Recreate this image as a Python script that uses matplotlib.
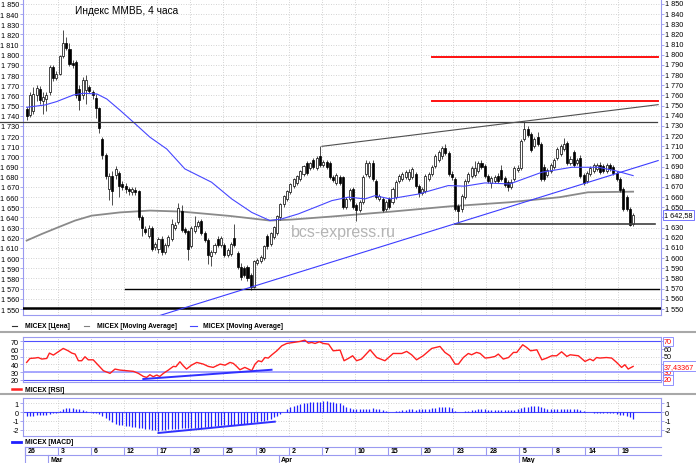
import matplotlib
matplotlib.use("Agg")
import matplotlib.pyplot as plt
from matplotlib.lines import Line2D
from matplotlib.ticker import FuncFormatter
import numpy as np

plt.rcParams['font.family'] = ['Liberation Sans', 'DejaVu Sans']
plt.rcParams['axes.unicode_minus'] = False

# 4-hour candles, MICEX index
opens = [1747,1741,1745,1760,1766,1755,1757,1763,1788,1777,
         1781,1799,1812,1806,1792,1793,1766,1760,1765,1768,
         1763,1758,1748,1717,1701,1668,1681,1682,1684,1673,
         1671,1668,1665,1667,1666,1640,1629,1622,1630,1611,
         1609,1619,1606,1613,1619,1630,1636,1646,1629,1627,
         1612,1627,1632,1637,1625,1618,1602,1606,1619,1613,
         1613,1603,1604,1620,1605,1591,1590,1591,1583,1572,
         1595,1597,1600,1622,1614,1621,1625,1640,1653,1658,
         1665,1671,1674,1678,1683,1694,1689,1697,1689,1700,
         1692,1695,1694,1680,1674,1680,1680,1650,1658,1668,
         1652,1647,1655,1683,1681,1694,1676,1658,1658,1648,
         1658,1655,1660,1676,1678,1680,1678,1680,1683,1671,
         1664,1666,1678,1683,1691,1697,1700,1708,1703,1683,
         1678,1651,1648,1660,1676,1681,1682,1686,1694,1691,
         1681,1674,1676,1681,1687,1679,1675,1670,1678,1687,
         1689,1717,1727,1722,1710,1719,1712,1690,1682,1686,
         1690,1699,1702,1707,1713,1694,1704,1694,1699,1682,
         1676,1683,1686,1688,1692,1691,1686,1692,1690,1684,
         1678,1668,1660,1648,1634]
highs = [1749,1763,1768,1770,1769,1763,1763,1790,1790,1784,
         1800,1824,1818,1812,1795,1795,1770,1778,1780,1770,
         1765,1761,1749,1719,1703,1684,1686,1691,1686,1676,
         1674,1670,1670,1670,1667,1642,1632,1633,1632,1616,
         1621,1622,1615,1623,1639,1636,1654,1652,1631,1628,
         1632,1641,1638,1639,1627,1620,1608,1615,1622,1622,
         1615,1610,1616,1634,1607,1595,1592,1593,1585,1598,
         1600,1603,1613,1624,1626,1632,1642,1654,1662,1667,
         1674,1679,1682,1687,1692,1696,1695,1699,1700,1710,
         1697,1697,1696,1682,1684,1682,1681,1660,1669,1670,
         1654,1657,1682,1697,1696,1697,1678,1663,1660,1657,
         1660,1670,1677,1683,1685,1687,1688,1690,1685,1673,
         1670,1683,1685,1692,1702,1706,1710,1712,1705,1686,
         1680,1653,1663,1678,1685,1691,1696,1696,1697,1693,
         1683,1681,1682,1684,1692,1681,1677,1678,1691,1692,
         1717,1735,1730,1724,1719,1724,1714,1693,1689,1694,
         1699,1709,1712,1718,1715,1700,1706,1699,1701,1684,
         1686,1691,1694,1694,1695,1693,1694,1694,1692,1686,
         1680,1670,1662,1650,1644]
lows = [1736,1739,1742,1755,1752,1742,1745,1760,1774,1775,
        1780,1797,1805,1789,1787,1758,1746,1757,1752,1762,
        1757,1738,1723,1698,1678,1657,1652,1678,1660,1667,
        1664,1662,1662,1662,1638,1622,1624,1620,1607,1608,
        1605,1603,1604,1611,1617,1628,1634,1626,1624,1598,
        1610,1625,1630,1623,1616,1594,1592,1604,1611,1611,
        1601,1601,1602,1611,1589,1579,1581,1578,1569,1571,
        1593,1595,1598,1609,1612,1619,1623,1638,1650,1656,
        1663,1669,1672,1676,1681,1682,1687,1688,1687,1690,
        1690,1688,1678,1675,1672,1672,1648,1648,1656,1648,
        1637,1645,1653,1681,1679,1676,1658,1656,1645,1646,
        1648,1653,1658,1674,1676,1678,1676,1678,1669,1660,
        1662,1664,1676,1681,1689,1695,1698,1701,1681,1677,
        1646,1636,1645,1658,1674,1679,1680,1684,1688,1679,
        1674,1669,1674,1674,1676,1670,1666,1668,1676,1685,
        1687,1715,1719,1704,1708,1710,1676,1676,1680,1684,
        1688,1697,1700,1705,1692,1692,1690,1692,1679,1672,
        1674,1681,1684,1686,1683,1684,1684,1686,1682,1676,
        1665,1646,1646,1632,1632]
closes = [1740,1760,1761,1767,1756,1759,1760,1788,1777,1781,
          1799,1812,1807,1791,1790,1760,1756,1775,1775,1764,
          1760,1748,1728,1701,1681,1681,1666,1688,1671,1670,
          1668,1666,1668,1665,1640,1630,1626,1630,1609,1614,
          1619,1606,1613,1621,1634,1633,1649,1628,1626,1609,
          1630,1632,1636,1625,1618,1603,1606,1613,1613,1620,
          1603,1608,1614,1613,1591,1581,1583,1580,1572,1597,
          1598,1601,1612,1612,1625,1631,1641,1653,1661,1666,
          1673,1678,1681,1686,1691,1684,1694,1690,1699,1692,
          1695,1690,1680,1677,1682,1674,1650,1658,1667,1650,
          1647,1655,1680,1694,1694,1678,1660,1661,1647,1655,
          1650,1668,1675,1681,1683,1685,1685,1688,1671,1664,
          1668,1681,1683,1690,1700,1704,1708,1703,1683,1680,
          1648,1646,1661,1676,1683,1689,1689,1694,1690,1681,
          1676,1679,1680,1676,1678,1672,1670,1675,1689,1689,
          1715,1727,1721,1706,1717,1712,1678,1678,1687,1692,
          1697,1707,1710,1712,1694,1698,1692,1697,1681,1674,
          1684,1689,1692,1692,1685,1686,1692,1688,1684,1678,
          1667,1648,1648,1633,1642.58]
last_price = 1642.58

# moving averages (bar index, value)
ma_blue_bar = [0, 5.6, 9.1, 14.2, 17.2, 21.3, 24.3, 28.5, 32.4, 37.4, 42.5, 48, 56.1, 62.2,
               68.3, 73.8, 77.4, 82.4, 87.5, 92.6, 97.6, 102.7, 105.7, 110.2, 118.8, 127.9,
               132.9, 139, 146.6, 156.3, 165.4, 173.4, 178.5, 184]
ma_blue = [1748.4, 1750.7, 1754, 1760.5, 1762.2, 1761.5, 1756.6, 1745, 1733.7, 1719, 1707.4,
           1687.8, 1674.7, 1658.3, 1645, 1637, 1638.6, 1643.5, 1650, 1656.6, 1660, 1658.3,
           1661.5, 1658.3, 1663, 1671.4, 1670.8, 1674, 1673, 1684.5, 1689.4, 1689.4, 1686.1, 1681.2]
ma_gray_bar = [0, 4.6, 9.6, 14.7, 19.7, 28.3, 37.4, 47, 61.7, 73.8, 80.5, 92, 109.7, 128.5,
               146.6, 161.8, 170.3, 184]
ma_gray = [1617.3, 1623.8, 1630.4, 1637, 1641.8, 1645, 1646.8, 1645.8, 1641.5, 1637, 1638,
           1640.8, 1645.5, 1651, 1655, 1660, 1664.8, 1665.4]

# RSI (bar index, value)
rsi_bar = [0, 1, 2.5, 3.5, 4.6, 6.1, 6.9, 8.1, 9.6, 11.1, 12.6, 13.7, 14.7, 15.7, 16.7, 17.7,
           18.7, 20.2, 21.7, 23.3, 25.3, 26.8, 28.3, 30.3, 32.4, 33.9, 35.4, 36.4, 37.4, 38.4,
           39.4, 40.4, 41.5, 43, 44.5, 45.3, 46.5, 47.5, 48.5, 50, 51.6, 53.6, 55.1, 56.6,
           58.7, 60.2, 61.7, 62.7, 63.7, 64.7, 66.2, 67.3, 68.3, 69.3, 70.3, 71.3, 72.3, 73.3,
           74.3, 75.9, 77.4, 78.9, 80.9, 82.9, 84.4, 85.5, 86.5, 87.5, 88.8, 90, 91.6, 93,
           95.1, 96.3, 97.6, 98.9, 100.1, 101.6, 104.2, 106.2, 108.7, 111.2, 113.8, 115.3,
           116.8, 118.3, 120.3, 122.9, 125.4, 126.9, 128.4, 130, 131, 132.5, 134, 135, 136.5,
           137.6, 139.1, 140.6, 142.1, 143.1, 144.6, 146.2, 147.7, 148.7, 150.5, 151.7, 152.9,
           154.8, 156.3, 157.8, 159.3, 160.8, 162.3, 163.9, 164.9, 167.4, 169.4, 170.9, 171.9,
           172.9, 173.9, 175.9, 177.5, 179, 180.5, 181.5, 182.5, 184]
rsi_val = [42.6, 47.8, 48.3, 49, 47, 47.8, 54.8, 52.2, 56.5, 60.9, 57.8, 54.8, 53.5, 44.8, 44.8,
           50, 46, 46, 39, 31.7, 28.3, 33.9, 32.6, 31.7, 30.9, 28.3, 24.3, 23, 26.5, 23.9, 26,
           24.3, 28.3, 32.6, 37.4, 37, 43.5, 38.3, 33.9, 39, 42.6, 40.4, 37.4, 36.1, 40.4, 39,
           42.6, 41.3, 37.4, 33, 36.1, 33.9, 31.7, 40.4, 44.8, 43.5, 49, 48.3, 52.2, 57.8, 64.3,
           67.4, 68.7, 70, 71.7, 67.8, 68.7, 67.4, 69.6, 67.4, 66.5, 57.8, 58.7, 44.8, 47.8,
           51.3, 44.8, 47, 59.1, 49, 44.8, 54.3, 54.3, 57, 52.6, 46, 51.3, 60.9, 63.5, 55.7,
           51.3, 40.4, 40.4, 49, 54.3, 52.6, 55.7, 54.3, 48.3, 49, 50.4, 53.5, 47, 49, 55.7,
           55.7, 65.7, 62.2, 57.8, 59.1, 46, 48.3, 51.3, 51.3, 56.5, 50.4, 52.6, 51.3, 43.9,
           47, 44.8, 49, 48.3, 49, 48.3, 42.6, 36.1, 39.6, 33.9, 37.4]
rsi_last = 37.43367

# MACD histogram, one value per candle
macd = [-0.45,-0.42,-0.40,-0.38,-0.35,-0.32,-0.28,-0.22,-0.15,-0.08,
        0.10,0.30,0.42,0.45,0.44,0.40,0.30,0.18,0.08,0.02,
        -0.05,-0.10,-0.20,-0.45,-0.70,-0.95,-1.15,-1.30,-1.42,-1.50,
        -1.58,-1.62,-1.68,-1.72,-1.78,-1.85,-1.92,-1.98,-2.03,-2.08,
        -2.15,-2.08,-2.02,-1.98,-1.93,-1.90,-1.87,-1.85,-1.84,-1.83,
        -1.82,-1.80,-1.78,-1.76,-1.74,-1.72,-1.68,-1.62,-1.57,-1.52,
        -1.50,-1.48,-1.45,-1.42,-1.38,-1.35,-1.32,-1.30,-1.20,-1.15,
        -1.12,-1.05,-0.98,-0.88,-0.75,-0.60,-0.45,-0.20,0.05,0.35,
        0.55,0.70,0.78,0.90,0.98,1.05,1.10,1.12,1.15,1.20,
        1.22,1.24,1.20,1.12,1.08,1.00,0.78,0.60,0.50,0.40,
        0.35,0.30,0.30,0.33,0.38,0.42,0.40,0.32,0.20,0.10,
        0.06,0.06,0.10,0.17,0.22,0.28,0.30,0.30,0.28,0.30,
        0.33,0.36,0.40,0.45,0.50,0.58,0.60,0.58,0.55,0.45,
        0.15,0.06,0.04,0.08,0.15,0.20,0.25,0.30,0.30,0.30,
        0.28,0.26,0.24,0.22,0.20,0.19,0.19,0.20,0.25,0.32,
        0.45,0.55,0.60,0.64,0.67,0.68,0.60,0.47,0.40,0.37,
        0.36,0.37,0.38,0.38,0.37,0.36,0.34,0.30,0.22,0.12,
        0.05,-0.03,-0.05,-0.07,-0.07,-0.07,-0.08,-0.10,-0.15,-0.20,
        -0.30,-0.38,-0.47,-0.55,-0.75]

# date axis: one label every 10 candles
day_labels = ['26','3','6','12','17','20','25','30','2','7','10','15','20','23','28','5','8','14','19']
month_names = ['Mar', 'Apr', 'May']
month_start = [7, 77, 150]

# drawn levels and trend lines (price levels / endpoints in bar, price)
level_top = 1734
level_mid = 1634
level_low = 1570
level_floor = 1550.8
red_levels = [1797.6, 1754.6]
upper_trend = ([89.6, 191.6], [1710, 1751])
support_trend = ([38.1, 191.6], [1541.3, 1696])
rsi_trend = ([35.4, 74.3], [20.9, 33.0])
macd_trend = ([40, 75.3], [-2.375, -1.09])

W, H = 696, 464
fig = plt.figure(figsize=(W / 100, H / 100), dpi=100)
fig.patch.set_facecolor('white')


def box(l, t, r, b):
    return [l / W, 1 - b / H, (r - l) / W, (b - t) / H]


LAV = '#9a9af0'
GRID = '#c4c4c4'
XL = (-1.107, 192.46)
X0 = -8.08  # figure left edge in bar units
seps = [10 * k - 0.5 for k in range(len(day_labels))]
LS = 5.2
RX = 1 + 4 / 638  # right label position in axes units


def style(a, top=True):
    a.set_xlim(*XL)
    for s in ['left', 'right', 'bottom', 'top']:
        a.spines[s].set_color(LAV)
        a.spines[s].set_linewidth(0.8)
    if not top:
        a.spines['top'].set_visible(False)
    a.set_xticks(seps[1:])
    a.tick_params(axis='x', length=0, labelbottom=False)
    a.tick_params(axis='y', left=True, right=True, labelleft=True, labelright=True,
                  length=2, width=0.6, color=LAV, labelsize=LS, pad=1)
    a.grid(True, color=GRID, linestyle=(0, (1, 2)), linewidth=0.6)
    a.set_axisbelow(True)


def price_fmt(v):
    return f"{int(round(v)):,}".replace(',', ' ')


# ---------- price panel ----------
ax = fig.add_axes(box(23, 0, 661, 316))
style(ax, top=False)
ax.set_ylim(1544.1, 1854.9)
ticks = list(range(1550, 1851, 10))
ax.set_yticks(ticks)
ax.yaxis.set_major_formatter(FuncFormatter(lambda v, p: price_fmt(v)))
ax.tick_params(axis='y', labelright=False)
ytr = ax.get_yaxis_transform()
for v in ticks:
    if abs(v - last_price) > 6:
        ax.text(RX, v, price_fmt(v), transform=ytr, fontsize=LS, va='center', ha='left',
                clip_on=False)

x = np.arange(len(closes))
o = np.array(opens, dtype=float)
c = np.array(closes, dtype=float)
ax.plot(ma_gray_bar, ma_gray, color='#8a8a8a', lw=1.3, zorder=2)
ax.vlines(x, lows, highs, color='#303030', lw=0.6, zorder=3)
ax.bar(x, np.maximum(np.abs(c - o), 0.8), bottom=np.minimum(o, c), width=0.62,
       color=np.where(c >= o, 'white', 'black'), edgecolor='black', linewidth=0.5, zorder=4)
ax.plot(ma_blue_bar, ma_blue, color='#4646ff', lw=0.8, zorder=5)

ax.plot([X0, 191.3], [level_top] * 2, color='#404040', lw=0.9, clip_on=False, zorder=5)
ax.plot([130, 190.7], [level_mid] * 2, color='#404040', lw=1.2, zorder=5)
ax.plot([29.8, 191.9], [level_low] * 2, color='black', lw=1.0, zorder=5)
ax.plot([XL[0], XL[1]], [level_floor] * 2, color='black', lw=1.8, zorder=5)
for lv in red_levels:
    ax.plot([122.9, 191.6], [lv, lv], color='#ff1010', lw=1.4, zorder=5)
ax.plot(*upper_trend, color='#505050', lw=0.8, zorder=5)
ax.plot(*support_trend, color='#3c3cff', lw=0.8, zorder=5)

ax.text(1 + 3 / 638, last_price, f"{last_price:,.2f}".replace(',', ' ').replace('.', ','),
        transform=ytr, fontsize=LS, va='center', ha='left',
        bbox=dict(boxstyle='square,pad=0.2', fc='white', ec='#6060ff', lw=0.6),
        zorder=10, clip_on=False)

fig.text(75 / W, 1 - 10.5 / H, 'Индекс ММВБ, 4 часа', fontsize=7.3, va='center', ha='left')
fig.text(291 / W, 1 - 236.7 / H, 'bcs-express.ru', fontsize=11.5, color='#b4b4b4',
         va='baseline', ha='left')

# ---------- RSI panel ----------
ax_r = fig.add_axes(box(23, 337.5, 661, 383.3))
style(ax_r)
ax_r.set_ylim(16.6, 76.5)
ax_r.set_yticks([20, 30, 40, 50, 60, 70])
ax_r.tick_params(axis='y', labelright=False)
ax_r.axhline(70, color='#5050ff', lw=0.8)
ax_r.axhline(30, color='#a0a0ff', lw=1.3)
ax_r.axhline(20, color='#5050ff', lw=0.8)
ax_r.plot(rsi_bar, rsi_val, color='#ff2020', lw=1.0, zorder=4)
ax_r.plot(*rsi_trend, color='#3030ff', lw=1.4, zorder=5)
tr = ax_r.get_yaxis_transform()
for val, txt, col, boxed in [(70, '70', 'red', True), (60, '60', 'black', False),
                             (50, '50', 'black', False), (30, '30', 'red', True),
                             (20, '20', 'red', True), (rsi_last, '37,43367', 'red', True)]:
    bb = dict(boxstyle='square,pad=0.2', fc='white', ec='#8080ff', lw=0.6) if boxed else None
    ax_r.text(1 + 3 / 638, val, txt, transform=tr, fontsize=LS, color=col, va='center',
              ha='left', bbox=bb, clip_on=False, zorder=10)

# ---------- MACD panel ----------
ax_m = fig.add_axes(box(23, 399, 661, 437))
style(ax_m)
ax_m.set_ylim(-2.72, 1.6)
ax_m.set_yticks([-2, -1, 0, 1])
ax_m.yaxis.set_major_formatter(FuncFormatter(lambda v, p: f"{int(round(v))}"))
ax_m.axhline(0, color='#5050ff', lw=0.8)
ax_m.vlines(x, 0, macd, color='#2020ff', lw=0.9, zorder=4)
ax_m.plot(*macd_trend, color='#3030ff', lw=1.4, zorder=5)

# ---------- legends and separators ----------
def fline(x1, x2, y, **kw):
    fig.add_artist(Line2D([x1 / W, x2 / W], [1 - y / H, 1 - y / H], **kw))


def ftext(xp, y, s):
    fig.text(xp / W, 1 - y / H, s, fontsize=4.9, fontweight='bold', va='center', ha='left')


fline(12, 17, 327, color='#303030', lw=0.8)
ftext(25, 327, 'MICEX [Цена]')
fline(84, 89, 327, color='#808080', lw=0.8)
ftext(97, 327, 'MICEX [Moving Average]')
fline(190, 197, 327, color='#4646ff', lw=0.8)
ftext(203, 327, 'MICEX [Moving Average]')
fline(12, 21, 390, color='#ff2020', lw=1.8)
ftext(25, 390, 'MICEX [RSI]')
fline(12, 21, 442.7, color='#2020ff', lw=2.0)
ftext(25, 442.7, 'MICEX [MACD]')
fline(0, W, 333, color='#a8a8a8', lw=1.5)
fline(0, W, 395, color='#a8a8a8', lw=1.5)

# ---------- date axis ----------
ax_d = fig.add_axes(box(23, 447, 661, 464))
ax_d.set_xlim(*XL)
ax_d.set_ylim(464, 447)
ax_d.axis('off')
ax_d.plot([-0.5, XL[1]], [447.5, 447.5], color=LAV, lw=0.8, clip_on=False)
ax_d.plot([-0.5, XL[1]], [456, 456], color=LAV, lw=0.8, clip_on=False)
ax_d.plot([-0.5, -0.5], [447.5, 464], color=LAV, lw=0.8, clip_on=False)
for s, lab in zip(seps, day_labels):
    ax_d.plot([s, s], [447.5, 456], color=LAV, lw=0.8, clip_on=False)
    ax_d.text(s + 0.9, 451.8, lab, fontsize=5, fontweight='bold', va='center', ha='left')
for m, st in zip(month_names, month_start):
    ax_d.plot([st - 0.5, st - 0.5], [456, 464], color=LAV, lw=0.8, clip_on=False)
    ax_d.text(st + 0.2, 460.5, m, fontsize=5, fontweight='bold', va='center', ha='left')

fig.savefig('out.png', dpi=100)
